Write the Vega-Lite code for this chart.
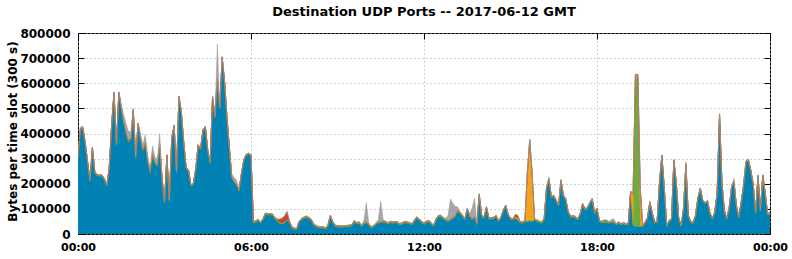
{
"$schema": "https://vega.github.io/schema/vega-lite/v6.json",
"width": 692, "height": 201,
"autosize": {"type": "none"},
"padding": {"left": 78, "top": 33, "right": 22, "bottom": 25},
"background": "white",
"title": {"text": "Destination UDP Ports -- 2017-06-12 GMT", "font": "DejaVu Sans", "fontSize": 13, "fontWeight": "bold", "color": "black", "anchor": "middle", "baseline": "alphabetic", "offset": -2},
"data": {"values": [
{"t":0,"a":300000,"g":3000,"o":2000,"r":0,"y":1000},
{"t":5,"a":415000,"g":3000,"o":2000,"r":0,"y":5000},
{"t":10,"a":420000,"g":3000,"o":2000,"r":0,"y":5000},
{"t":15,"a":360000,"g":3000,"o":2000,"r":0,"y":1000},
{"t":20,"a":283000,"g":3000,"o":2000,"r":0,"y":1000},
{"t":25,"a":210000,"g":3000,"o":2000,"r":0,"y":1000},
{"t":30,"a":340000,"g":3000,"o":2000,"r":0,"y":1000},
{"t":35,"a":243000,"g":3000,"o":2000,"r":0,"y":1000},
{"t":40,"a":232000,"g":3000,"o":2000,"r":0,"y":1000},
{"t":45,"a":230000,"g":3000,"o":2000,"r":0,"y":1000},
{"t":50,"a":230000,"g":3000,"o":2000,"r":0,"y":1000},
{"t":55,"a":215000,"g":3000,"o":2000,"r":0,"y":1000},
{"t":60,"a":190000,"g":3000,"o":2000,"r":0,"y":1000},
{"t":65,"a":260000,"g":3000,"o":2000,"r":0,"y":1000},
{"t":70,"a":430000,"g":3000,"o":2000,"r":0,"y":1000},
{"t":75,"a":560000,"g":3000,"o":2000,"r":0,"y":1000},
{"t":80,"a":350000,"g":3000,"o":2000,"r":0,"y":1000},
{"t":85,"a":560000,"g":3000,"o":2000,"r":0,"y":1000},
{"t":90,"a":500000,"g":3000,"o":2000,"r":0,"y":10000},
{"t":95,"a":445000,"g":3000,"o":2000,"r":0,"y":25000},
{"t":100,"a":400000,"g":3000,"o":2000,"r":0,"y":35000},
{"t":105,"a":365000,"g":3000,"o":2000,"r":4000,"y":35000},
{"t":110,"a":376000,"g":3000,"o":2000,"r":0,"y":25000},
{"t":115,"a":490000,"g":3000,"o":2000,"r":0,"y":5000},
{"t":120,"a":300000,"g":3000,"o":2000,"r":0,"y":8000},
{"t":125,"a":436000,"g":3000,"o":2000,"r":0,"y":1000},
{"t":130,"a":380000,"g":3000,"o":2000,"r":0,"y":15000},
{"t":135,"a":330000,"g":3000,"o":2000,"r":0,"y":20000},
{"t":140,"a":356000,"g":3000,"o":2000,"r":5000,"y":30000},
{"t":145,"a":290000,"g":3000,"o":2000,"r":0,"y":20000},
{"t":150,"a":243000,"g":3000,"o":2000,"r":0,"y":10000},
{"t":155,"a":310000,"g":3000,"o":2000,"r":5000,"y":30000},
{"t":160,"a":283000,"g":3000,"o":2000,"r":0,"y":20000},
{"t":165,"a":270000,"g":3000,"o":2000,"r":0,"y":20000},
{"t":170,"a":350000,"g":3000,"o":2000,"r":0,"y":45000},
{"t":175,"a":216000,"g":3000,"o":2000,"r":0,"y":5000},
{"t":180,"a":123000,"g":3000,"o":2000,"r":0,"y":1000},
{"t":185,"a":310000,"g":3000,"o":2000,"r":0,"y":1000},
{"t":190,"a":130000,"g":3000,"o":2000,"r":0,"y":1000},
{"t":195,"a":376000,"g":3000,"o":2000,"r":0,"y":1000},
{"t":200,"a":428000,"g":3000,"o":2000,"r":0,"y":1000},
{"t":205,"a":243000,"g":3000,"o":2000,"r":0,"y":1000},
{"t":210,"a":543000,"g":3000,"o":2000,"r":0,"y":1000},
{"t":215,"a":483000,"g":3000,"o":2000,"r":0,"y":1000},
{"t":220,"a":363000,"g":3000,"o":2000,"r":0,"y":1000},
{"t":225,"a":260000,"g":3000,"o":2000,"r":0,"y":1000},
{"t":230,"a":250000,"g":3000,"o":2000,"r":0,"y":1000},
{"t":235,"a":190000,"g":3000,"o":2000,"r":0,"y":1000},
{"t":240,"a":196000,"g":3000,"o":2000,"r":0,"y":1000},
{"t":245,"a":256000,"g":3000,"o":2000,"r":0,"y":1000},
{"t":250,"a":350000,"g":3000,"o":2000,"r":0,"y":1000},
{"t":255,"a":335000,"g":3000,"o":2000,"r":0,"y":1000},
{"t":260,"a":410000,"g":3000,"o":2000,"r":0,"y":1000},
{"t":265,"a":423000,"g":3000,"o":2000,"r":0,"y":1000},
{"t":270,"a":330000,"g":3000,"o":2000,"r":0,"y":1000},
{"t":275,"a":280000,"g":3000,"o":2000,"r":0,"y":1000},
{"t":280,"a":543000,"g":3000,"o":2000,"r":0,"y":1000},
{"t":285,"a":463000,"g":3000,"o":2000,"r":0,"y":1000},
{"t":290,"a":616000,"g":3000,"o":2000,"r":0,"y":135000},
{"t":295,"a":500000,"g":3000,"o":2000,"r":0,"y":1000},
{"t":300,"a":700000,"g":3000,"o":2000,"r":0,"y":1000},
{"t":305,"a":603000,"g":3000,"o":2000,"r":0,"y":1000},
{"t":310,"a":460000,"g":3000,"o":2000,"r":0,"y":1000},
{"t":315,"a":340000,"g":3000,"o":2000,"r":0,"y":1000},
{"t":320,"a":223000,"g":3000,"o":2000,"r":0,"y":10000},
{"t":325,"a":205000,"g":3000,"o":2000,"r":0,"y":15000},
{"t":330,"a":195000,"g":3000,"o":2000,"r":0,"y":15000},
{"t":335,"a":170000,"g":3000,"o":2000,"r":0,"y":1000},
{"t":340,"a":235000,"g":3000,"o":2000,"r":0,"y":1000},
{"t":345,"a":290000,"g":3000,"o":2000,"r":0,"y":1000},
{"t":350,"a":312000,"g":3000,"o":2000,"r":0,"y":1000},
{"t":355,"a":316000,"g":3000,"o":2000,"r":0,"y":1000},
{"t":360,"a":310000,"g":3000,"o":2000,"r":0,"y":1000},
{"t":365,"a":43000,"g":3000,"o":2000,"r":0,"y":1000},
{"t":370,"a":48000,"g":3000,"o":2000,"r":0,"y":1000},
{"t":375,"a":53000,"g":3000,"o":2000,"r":0,"y":1000},
{"t":380,"a":43000,"g":3000,"o":2000,"r":0,"y":1000},
{"t":385,"a":56000,"g":3000,"o":2000,"r":0,"y":1000},
{"t":390,"a":78000,"g":3000,"o":2000,"r":0,"y":1000},
{"t":395,"a":76000,"g":3000,"o":2000,"r":0,"y":1000},
{"t":400,"a":76000,"g":3000,"o":2000,"r":0,"y":1000},
{"t":405,"a":74000,"g":3000,"o":2000,"r":0,"y":1000},
{"t":410,"a":59000,"g":3000,"o":2000,"r":0,"y":1000},
{"t":415,"a":49000,"g":3000,"o":2000,"r":5000,"y":1000},
{"t":420,"a":42000,"g":3000,"o":2000,"r":12000,"y":1000},
{"t":425,"a":40000,"g":3000,"o":2000,"r":18000,"y":1000},
{"t":430,"a":45000,"g":3000,"o":2000,"r":22000,"y":1000},
{"t":435,"a":56000,"g":3000,"o":2000,"r":28000,"y":1000},
{"t":440,"a":43000,"g":3000,"o":2000,"r":5000,"y":1000},
{"t":445,"a":23000,"g":3000,"o":2000,"r":0,"y":1000},
{"t":450,"a":19000,"g":3000,"o":2000,"r":0,"y":1000},
{"t":455,"a":16000,"g":3000,"o":2000,"r":0,"y":1000},
{"t":460,"a":45000,"g":3000,"o":2000,"r":0,"y":1000},
{"t":465,"a":56000,"g":3000,"o":2000,"r":0,"y":1000},
{"t":470,"a":62000,"g":3000,"o":2000,"r":0,"y":1000},
{"t":475,"a":66000,"g":3000,"o":2000,"r":0,"y":1000},
{"t":480,"a":61000,"g":3000,"o":2000,"r":0,"y":1000},
{"t":485,"a":55000,"g":3000,"o":2000,"r":0,"y":1000},
{"t":490,"a":36000,"g":3000,"o":2000,"r":0,"y":1000},
{"t":495,"a":29000,"g":3000,"o":2000,"r":0,"y":1000},
{"t":500,"a":25000,"g":3000,"o":2000,"r":0,"y":1000},
{"t":505,"a":23000,"g":3000,"o":2000,"r":0,"y":1000},
{"t":510,"a":24000,"g":3000,"o":2000,"r":0,"y":1000},
{"t":515,"a":19000,"g":3000,"o":2000,"r":0,"y":1000},
{"t":520,"a":30000,"g":3000,"o":2000,"r":0,"y":1000},
{"t":525,"a":69000,"g":3000,"o":2000,"r":0,"y":1000},
{"t":530,"a":45000,"g":3000,"o":2000,"r":0,"y":1000},
{"t":535,"a":30000,"g":3000,"o":2000,"r":0,"y":1000},
{"t":540,"a":28000,"g":3000,"o":2000,"r":0,"y":1000},
{"t":545,"a":27000,"g":3000,"o":2000,"r":0,"y":1000},
{"t":550,"a":27000,"g":3000,"o":2000,"r":0,"y":1000},
{"t":555,"a":28000,"g":3000,"o":2000,"r":0,"y":1000},
{"t":560,"a":29000,"g":3000,"o":2000,"r":0,"y":1000},
{"t":565,"a":30000,"g":3000,"o":2000,"r":0,"y":1000},
{"t":570,"a":32000,"g":3000,"o":2000,"r":0,"y":1000},
{"t":575,"a":48000,"g":3000,"o":2000,"r":0,"y":1000},
{"t":580,"a":40000,"g":3000,"o":2000,"r":0,"y":1000},
{"t":585,"a":43000,"g":3000,"o":2000,"r":0,"y":1000},
{"t":590,"a":29000,"g":3000,"o":2000,"r":0,"y":1000},
{"t":595,"a":40000,"g":3000,"o":2000,"r":0,"y":10000},
{"t":600,"a":45000,"g":3000,"o":2000,"r":0,"y":75000},
{"t":605,"a":36000,"g":3000,"o":2000,"r":0,"y":5000},
{"t":610,"a":23000,"g":3000,"o":2000,"r":0,"y":1000},
{"t":615,"a":29000,"g":3000,"o":2000,"r":0,"y":1000},
{"t":620,"a":38000,"g":3000,"o":2000,"r":0,"y":1000},
{"t":625,"a":43000,"g":3000,"o":2000,"r":0,"y":10000},
{"t":630,"a":45000,"g":3000,"o":2000,"r":0,"y":80000},
{"t":635,"a":47000,"g":3000,"o":2000,"r":0,"y":5000},
{"t":640,"a":45000,"g":3000,"o":2000,"r":0,"y":1000},
{"t":645,"a":40000,"g":3000,"o":2000,"r":0,"y":1000},
{"t":650,"a":45000,"g":3000,"o":2000,"r":0,"y":1000},
{"t":655,"a":43000,"g":3000,"o":2000,"r":0,"y":1000},
{"t":660,"a":45000,"g":3000,"o":2000,"r":0,"y":1000},
{"t":665,"a":43000,"g":3000,"o":2000,"r":0,"y":1000},
{"t":670,"a":36000,"g":3000,"o":2000,"r":0,"y":1000},
{"t":675,"a":40000,"g":3000,"o":2000,"r":0,"y":1000},
{"t":680,"a":45000,"g":3000,"o":2000,"r":0,"y":1000},
{"t":685,"a":43000,"g":3000,"o":2000,"r":0,"y":1000},
{"t":690,"a":40000,"g":3000,"o":2000,"r":0,"y":1000},
{"t":695,"a":36000,"g":3000,"o":2000,"r":0,"y":1000},
{"t":700,"a":50000,"g":3000,"o":2000,"r":0,"y":1000},
{"t":705,"a":63000,"g":3000,"o":2000,"r":0,"y":1000},
{"t":710,"a":55000,"g":3000,"o":2000,"r":0,"y":1000},
{"t":715,"a":45000,"g":3000,"o":2000,"r":0,"y":1000},
{"t":720,"a":38000,"g":3000,"o":2000,"r":0,"y":1000},
{"t":725,"a":46000,"g":3000,"o":2000,"r":0,"y":1000},
{"t":730,"a":48000,"g":3000,"o":2000,"r":0,"y":1000},
{"t":735,"a":40000,"g":3000,"o":2000,"r":0,"y":1000},
{"t":740,"a":29000,"g":3000,"o":2000,"r":0,"y":1000},
{"t":745,"a":55000,"g":3000,"o":2000,"r":0,"y":1000},
{"t":750,"a":69000,"g":3000,"o":2000,"r":0,"y":1000},
{"t":755,"a":69000,"g":3000,"o":2000,"r":0,"y":1000},
{"t":760,"a":60000,"g":3000,"o":2000,"r":0,"y":1000},
{"t":765,"a":55000,"g":3000,"o":2000,"r":0,"y":1000},
{"t":770,"a":49000,"g":3000,"o":2000,"r":0,"y":20000},
{"t":775,"a":56000,"g":3000,"o":2000,"r":0,"y":78000},
{"t":780,"a":62000,"g":3000,"o":2000,"r":0,"y":55000},
{"t":785,"a":70000,"g":3000,"o":2000,"r":0,"y":35000},
{"t":790,"a":90000,"g":3000,"o":2000,"r":0,"y":12000},
{"t":795,"a":82000,"g":3000,"o":2000,"r":0,"y":1000},
{"t":800,"a":70000,"g":3000,"o":2000,"r":0,"y":1000},
{"t":805,"a":56000,"g":3000,"o":2000,"r":0,"y":1000},
{"t":810,"a":96000,"g":3000,"o":2000,"r":0,"y":1000},
{"t":815,"a":70000,"g":3000,"o":2000,"r":0,"y":5000},
{"t":820,"a":56000,"g":3000,"o":2000,"r":0,"y":40000},
{"t":825,"a":66000,"g":3000,"o":2000,"r":0,"y":72000},
{"t":830,"a":36000,"g":3000,"o":2000,"r":0,"y":5000},
{"t":835,"a":149000,"g":3000,"o":5000,"r":3000,"y":1000},
{"t":840,"a":69000,"g":3000,"o":2000,"r":0,"y":1000},
{"t":845,"a":63000,"g":3000,"o":2000,"r":0,"y":1000},
{"t":850,"a":103000,"g":3000,"o":2000,"r":0,"y":1000},
{"t":855,"a":59000,"g":3000,"o":2000,"r":0,"y":1000},
{"t":860,"a":59000,"g":3000,"o":2000,"r":0,"y":1000},
{"t":865,"a":62000,"g":3000,"o":2000,"r":0,"y":1000},
{"t":870,"a":69000,"g":3000,"o":2000,"r":0,"y":1000},
{"t":875,"a":49000,"g":3000,"o":2000,"r":0,"y":1000},
{"t":880,"a":62000,"g":3000,"o":2000,"r":0,"y":1000},
{"t":885,"a":90000,"g":3000,"o":2000,"r":0,"y":1000},
{"t":890,"a":110000,"g":3000,"o":2000,"r":0,"y":1000},
{"t":895,"a":75000,"g":3000,"o":2000,"r":0,"y":1000},
{"t":900,"a":58000,"g":3000,"o":2000,"r":0,"y":1000},
{"t":905,"a":56000,"g":3000,"o":2000,"r":0,"y":1000},
{"t":910,"a":63000,"g":3000,"o":4000,"r":8000,"y":1000},
{"t":915,"a":55000,"g":3000,"o":6000,"r":10000,"y":1000},
{"t":920,"a":45000,"g":3000,"o":2000,"r":0,"y":1000},
{"t":925,"a":43000,"g":3000,"o":2000,"r":0,"y":1000},
{"t":930,"a":49000,"g":3000,"o":2000,"r":0,"y":1000},
{"t":935,"a":50000,"g":3000,"o":190000,"r":0,"y":1000},
{"t":940,"a":52000,"g":3000,"o":320000,"r":0,"y":1000},
{"t":945,"a":50000,"g":3000,"o":190000,"r":0,"y":1000},
{"t":950,"a":56000,"g":3000,"o":2000,"r":0,"y":1000},
{"t":955,"a":50000,"g":3000,"o":2000,"r":0,"y":1000},
{"t":960,"a":46000,"g":3000,"o":2000,"r":0,"y":1000},
{"t":965,"a":43000,"g":3000,"o":2000,"r":0,"y":1000},
{"t":970,"a":56000,"g":3000,"o":2000,"r":0,"y":1000},
{"t":975,"a":180000,"g":3000,"o":2000,"r":0,"y":1000},
{"t":980,"a":215000,"g":3000,"o":2000,"r":0,"y":8000},
{"t":985,"a":143000,"g":3000,"o":2000,"r":0,"y":1000},
{"t":990,"a":149000,"g":3000,"o":2000,"r":0,"y":1000},
{"t":995,"a":130000,"g":3000,"o":2000,"r":0,"y":1000},
{"t":1000,"a":110000,"g":3000,"o":2000,"r":0,"y":1000},
{"t":1005,"a":209000,"g":3000,"o":2000,"r":0,"y":5000},
{"t":1010,"a":150000,"g":3000,"o":2000,"r":0,"y":1000},
{"t":1015,"a":135000,"g":3000,"o":2000,"r":0,"y":1000},
{"t":1020,"a":85000,"g":3000,"o":2000,"r":0,"y":1000},
{"t":1025,"a":67000,"g":3000,"o":2000,"r":0,"y":1000},
{"t":1030,"a":68000,"g":3000,"o":2000,"r":0,"y":1000},
{"t":1035,"a":65000,"g":3000,"o":2000,"r":0,"y":1000},
{"t":1040,"a":56000,"g":3000,"o":2000,"r":0,"y":1000},
{"t":1045,"a":76000,"g":3000,"o":2000,"r":0,"y":1000},
{"t":1050,"a":116000,"g":3000,"o":2000,"r":0,"y":1000},
{"t":1055,"a":96000,"g":3000,"o":2000,"r":0,"y":1000},
{"t":1060,"a":100000,"g":3000,"o":2000,"r":0,"y":1000},
{"t":1065,"a":120000,"g":3000,"o":2000,"r":0,"y":1000},
{"t":1070,"a":136000,"g":3000,"o":2000,"r":0,"y":1000},
{"t":1075,"a":80000,"g":3000,"o":2000,"r":0,"y":1000},
{"t":1080,"a":97000,"g":3000,"o":2000,"r":0,"y":1000},
{"t":1085,"a":49000,"g":3000,"o":2000,"r":0,"y":1000},
{"t":1090,"a":45000,"g":3000,"o":2000,"r":0,"y":1000},
{"t":1095,"a":45000,"g":8000,"o":2000,"r":0,"y":1000},
{"t":1100,"a":46000,"g":6000,"o":2000,"r":0,"y":1000},
{"t":1105,"a":43000,"g":3000,"o":2000,"r":0,"y":1000},
{"t":1110,"a":45000,"g":3000,"o":2000,"r":0,"y":8000},
{"t":1115,"a":46000,"g":3000,"o":2000,"r":0,"y":10000},
{"t":1120,"a":36000,"g":3000,"o":2000,"r":0,"y":1000},
{"t":1125,"a":43000,"g":3000,"o":2000,"r":0,"y":1000},
{"t":1130,"a":36000,"g":3000,"o":2000,"r":0,"y":1000},
{"t":1135,"a":40000,"g":3000,"o":2000,"r":0,"y":1000},
{"t":1140,"a":36000,"g":3000,"o":2000,"r":0,"y":1000},
{"t":1145,"a":36000,"g":3000,"o":2000,"r":0,"y":1000},
{"t":1150,"a":165000,"g":3000,"o":2000,"r":0,"y":1000},
{"t":1155,"a":35000,"g":3000,"o":120000,"r":0,"y":1000},
{"t":1160,"a":30000,"g":600000,"o":5000,"r":0,"y":1000},
{"t":1165,"a":30000,"g":595000,"o":10000,"r":0,"y":1000},
{"t":1170,"a":30000,"g":3000,"o":150000,"r":0,"y":1000},
{"t":1175,"a":29000,"g":3000,"o":2000,"r":0,"y":1000},
{"t":1180,"a":43000,"g":3000,"o":2000,"r":0,"y":1000},
{"t":1185,"a":60000,"g":3000,"o":2000,"r":0,"y":1000},
{"t":1190,"a":123000,"g":3000,"o":2000,"r":0,"y":5000},
{"t":1195,"a":80000,"g":3000,"o":2000,"r":0,"y":1000},
{"t":1200,"a":43000,"g":3000,"o":2000,"r":0,"y":1000},
{"t":1205,"a":45000,"g":3000,"o":2000,"r":0,"y":1000},
{"t":1210,"a":200000,"g":3000,"o":2000,"r":0,"y":1000},
{"t":1215,"a":309000,"g":3000,"o":2000,"r":0,"y":1000},
{"t":1220,"a":180000,"g":3000,"o":2000,"r":0,"y":1000},
{"t":1225,"a":29000,"g":3000,"o":2000,"r":0,"y":1000},
{"t":1230,"a":49000,"g":3000,"o":2000,"r":0,"y":1000},
{"t":1235,"a":56000,"g":3000,"o":2000,"r":0,"y":1000},
{"t":1240,"a":290000,"g":3000,"o":2000,"r":0,"y":1000},
{"t":1245,"a":200000,"g":3000,"o":2000,"r":0,"y":1000},
{"t":1250,"a":60000,"g":3000,"o":2000,"r":0,"y":1000},
{"t":1255,"a":30000,"g":3000,"o":2000,"r":0,"y":1000},
{"t":1260,"a":96000,"g":3000,"o":2000,"r":0,"y":1000},
{"t":1265,"a":275000,"g":3000,"o":2000,"r":0,"y":8000},
{"t":1270,"a":70000,"g":3000,"o":2000,"r":0,"y":1000},
{"t":1275,"a":45000,"g":3000,"o":2000,"r":0,"y":1000},
{"t":1280,"a":42000,"g":3000,"o":2000,"r":0,"y":1000},
{"t":1285,"a":70000,"g":3000,"o":2000,"r":0,"y":1000},
{"t":1290,"a":140000,"g":3000,"o":2000,"r":0,"y":1000},
{"t":1295,"a":178000,"g":3000,"o":2000,"r":0,"y":1000},
{"t":1300,"a":130000,"g":3000,"o":2000,"r":0,"y":1000},
{"t":1305,"a":120000,"g":3000,"o":2000,"r":0,"y":1000},
{"t":1310,"a":128000,"g":3000,"o":2000,"r":0,"y":1000},
{"t":1315,"a":80000,"g":3000,"o":2000,"r":0,"y":1000},
{"t":1320,"a":58000,"g":3000,"o":2000,"r":0,"y":1000},
{"t":1325,"a":82000,"g":3000,"o":2000,"r":0,"y":1000},
{"t":1330,"a":160000,"g":3000,"o":2000,"r":0,"y":1000},
{"t":1335,"a":473000,"g":3000,"o":2000,"r":0,"y":1000},
{"t":1340,"a":200000,"g":3000,"o":2000,"r":0,"y":1000},
{"t":1345,"a":90000,"g":3000,"o":2000,"r":0,"y":1000},
{"t":1350,"a":58000,"g":3000,"o":2000,"r":0,"y":1000},
{"t":1355,"a":100000,"g":3000,"o":2000,"r":0,"y":1000},
{"t":1360,"a":182000,"g":3000,"o":2000,"r":0,"y":5000},
{"t":1365,"a":205000,"g":3000,"o":2000,"r":0,"y":12000},
{"t":1370,"a":110000,"g":3000,"o":2000,"r":0,"y":1000},
{"t":1375,"a":63000,"g":3000,"o":2000,"r":0,"y":1000},
{"t":1380,"a":122000,"g":3000,"o":2000,"r":0,"y":1000},
{"t":1385,"a":190000,"g":3000,"o":2000,"r":0,"y":1000},
{"t":1390,"a":285000,"g":3000,"o":2000,"r":0,"y":1000},
{"t":1395,"a":292000,"g":3000,"o":2000,"r":0,"y":1000},
{"t":1400,"a":250000,"g":3000,"o":2000,"r":0,"y":1000},
{"t":1405,"a":195000,"g":3000,"o":2000,"r":0,"y":1000},
{"t":1410,"a":82000,"g":3000,"o":2000,"r":0,"y":1000},
{"t":1415,"a":228000,"g":3000,"o":2000,"r":0,"y":1000},
{"t":1420,"a":90000,"g":3000,"o":2000,"r":0,"y":1000},
{"t":1425,"a":230000,"g":3000,"o":2000,"r":0,"y":1000},
{"t":1430,"a":160000,"g":3000,"o":2000,"r":0,"y":1000},
{"t":1435,"a":76000,"g":3000,"o":2000,"r":0,"y":1000},
{"t":1440,"a":80000,"g":3000,"o":2000,"r":0,"y":1000}
]},
"layer": [
{
"transform": [{"fold": ["a","g","o","r","y"], "as": ["port","bytes"]}],
"mark": {"type": "area", "interpolate": "linear", "strokeWidth": 0.5, "clip": true},
"encoding": {
"x": {"field": "t", "type": "quantitative", "scale": {"domain": [0,1440], "nice": false, "zero": false},
"axis": {"orient": "bottom", "values": [0,360,720,1080,1440], "labelExpr": "datum.value == 360 ? '06:00' : datum.value == 720 ? '12:00' : datum.value == 1080 ? '18:00' : '00:00'", "title": null, "domain": false, "ticks": true, "tickSize": -6, "tickColor": "black", "labelPadding": 13, "labelFont": "DejaVu Sans", "labelFontWeight": "bold", "labelFontSize": 11, "labelColor": "black", "labelFlush": false, "grid": true, "gridColor": "#a0a0a0", "gridDash": [1,3], "gridWidth": 1}},
"y": {"field": "bytes", "type": "quantitative", "stack": "zero", "scale": {"domain": [0,800000], "nice": false},
"axis": {"orient": "left", "values": [0,100000,200000,300000,400000,500000,600000,700000,800000], "format": "d", "title": "Bytes per time slot (300 s)", "titleFont": "DejaVu Sans", "titleFontWeight": "bold", "titleFontSize": 12, "titleColor": "black", "titleAngle": -90, "titleX": -66, "titleY": 98, "titleAlign": "center", "titleBaseline": "middle", "domain": false, "ticks": true, "tickSize": -6, "tickColor": "black", "labelPadding": 14, "labelFont": "DejaVu Sans", "labelFontWeight": "bold", "labelFontSize": 12, "labelColor": "black", "labelFlush": false, "grid": true, "gridColor": "#a0a0a0", "gridDash": [1,3], "gridWidth": 1}},
"color": {"field": "port", "type": "nominal", "scale": {"domain": ["a","g","o","r","y"], "range": ["#0083b4","#6aaf3d","#f5a31c","#c8462a","#a6a6a6"]}, "legend": null},
"stroke": {"field": "port", "type": "nominal", "scale": {"domain": ["a","g","o","r","y"], "range": ["#2a6f8e","#5c9a34","#d98c14","#b03c22","#999999"]}, "legend": null},
"order": {"field": "port", "sort": "ascending"}
}
},
{
"mark": {"type": "point", "opacity": 0},
"encoding": {
"x": {"field": "t", "type": "quantitative", "scale": {"domain": [0,1440], "nice": false, "zero": false},
"axis": {"orient": "top", "values": [0,360,720,1080,1440], "labels": false, "title": null, "domain": false, "ticks": true, "tickSize": -6, "tickColor": "black", "grid": false}},
"y": {"field": "a", "type": "quantitative", "scale": {"domain": [0,800000], "nice": false},
"axis": {"orient": "right", "values": [0,100000,200000,300000,400000,500000,600000,700000,800000], "labels": false, "title": null, "domain": false, "ticks": true, "tickSize": -6, "tickColor": "black", "grid": false}}
}
}
],
"resolve": {"axis": {"x": "independent", "y": "independent"}},
"config": {"view": {"stroke": "black", "strokeWidth": 1}}
}
